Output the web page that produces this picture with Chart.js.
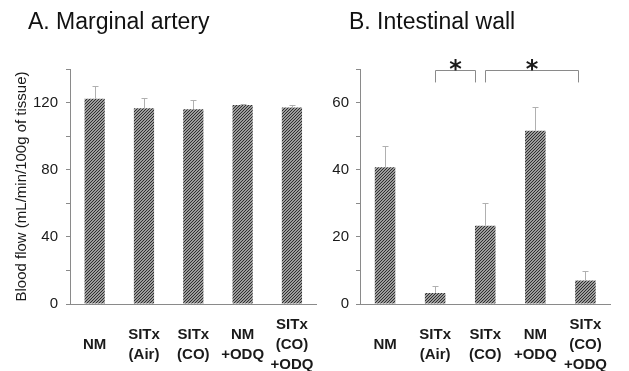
<!DOCTYPE html>
<html>
<head>
<meta charset="utf-8">
<script src="https://cdn.jsdelivr.net/npm/chart.js@4.4.1/dist/chart.umd.min.js"></script>
<style>
  html, body { margin: 0; padding: 0; background: #fff; }
  #wrap { position: relative; width: 629px; height: 371px; overflow: hidden; }
  .panel { position: absolute; top: 0; height: 371px; }
  #panelA { left: 0; width: 335px; }
  #panelB { left: 315px; width: 314px; }
</style>
</head>
<body>
<div id="wrap">
  <div class="panel" id="panelA"><canvas id="chartA"></canvas></div>
  <div class="panel" id="panelB"><canvas id="chartB"></canvas></div>
</div>
<script>
(() => {

    // --------- data ---------
    const groups = [["NM"], ["SITx", "(Air)"], ["SITx", "(CO)"], ["NM", "+ODQ"], ["SITx", "(CO)", "+ODQ"]];

    const arteryFlow = [122.3, 116.6, 116.0, 118.5, 117.0];
    const arteryErr  = [7.5, 6.0, 5.7, 0.6, 1.5];

    const wallFlow = [40.7, 3.3, 23.3, 51.6, 7.0];
    const wallErr  = [6.4, 2.1, 6.9, 7.2, 2.9];

    const arteryTicks = [0, 40, 80, 120];
    const wallTicks = [0, 20, 40, 60];

    // significance brackets on panel B: from / to are category positions
    const brackets = [
        { from: 1.0, to: 1.79, top: 69.6, leg: 66.0 },
        { from: 2.0, to: 3.85, top: 69.6, leg: 66.0 }
    ];

    // --------- hatch fill ---------
    function hatch() {
        const c = document.createElement("canvas");
        c.width = 3; c.height = 3;
        const g = c.getContext("2d");
        g.fillStyle = "#9c9c9c";
        g.fillRect(0, 0, 3, 3);
        g.fillStyle = "#2e2e2e";
        // one "/" diagonal per tile
        g.fillRect(2, 0, 1, 1);
        g.fillRect(1, 1, 1, 1);
        g.fillRect(0, 2, 1, 1);
        return g.createPattern(c, "repeat");
    }

    // --------- plugins ---------
    const panelTitle = {
        id: "panelTitle",
        afterDraw(chart, args, opts) {
            const ctx = chart.ctx;
            ctx.save();
            ctx.font = "23px 'Liberation Sans', Arial, sans-serif";
            ctx.fillStyle = "#111";
            ctx.textBaseline = "alphabetic";
            ctx.fillText(opts.text, opts.x, 29);
            ctx.restore();
        }
    };

    const errorBars = {
        id: "errorBars",
        afterDatasetsDraw(chart, args, opts) {
            const ctx = chart.ctx;
            const y = chart.scales.y;
            const meta = chart.getDatasetMeta(0);
            const vals = chart.data.datasets[0].data;
            ctx.save();
            ctx.strokeStyle = "#b0b0b0";
            ctx.lineWidth = 1;
            meta.data.forEach((bar, i) => {
                const x = Math.round(bar.x) + 0.5;
                const y0 = y.getPixelForValue(vals[i]);
                const y1 = Math.round(y.getPixelForValue(vals[i] + opts.err[i])) + 0.5;
                ctx.beginPath();
                ctx.moveTo(x, y0);
                ctx.lineTo(x, y1);
                ctx.moveTo(x - 3, y1);
                ctx.lineTo(x + 3, y1);
                ctx.stroke();
            });
            ctx.restore();
        }
    };

    const sigBrackets = {
        id: "sigBrackets",
        afterDraw(chart, args, opts) {
            if (!opts.items) return;
            const ctx = chart.ctx;
            const xs = chart.scales.x, ys = chart.scales.y;
            ctx.save();
            ctx.strokeStyle = "#8a8a8a";
            ctx.lineWidth = 1;
            opts.items.forEach(b => {
                const x1 = Math.round(xs.getPixelForValue(b.from)) + 0.5;
                const x2 = Math.round(xs.getPixelForValue(b.to)) + 0.5;
                const yt = Math.round(ys.getPixelForValue(b.top)) + 0.5;
                const yl = ys.getPixelForValue(b.leg);
                ctx.beginPath();
                ctx.moveTo(x1, yl);
                ctx.lineTo(x1, yt);
                ctx.lineTo(x2, yt);
                ctx.lineTo(x2, yl);
                ctx.stroke();
                ctx.fillStyle = "#1a1a1a";
                ctx.font = "bold 24px 'DejaVu Sans', sans-serif";
                ctx.textAlign = "center";
                ctx.textBaseline = "alphabetic";
                ctx.fillText("*", (x1 + x2) / 2, yt + 6);
            });
            ctx.restore();
        }
    };

    // --------- chart builder ---------
    function makeChart(id, opt) {
        const el = document.getElementById(id);
        return new Chart(el, {
            type: "bar",
            data: {
                labels: groups,
                datasets: [{
                    data: opt.values,
                    backgroundColor: hatch(),
                    borderWidth: 0,
                    categoryPercentage: 1,
                    barPercentage: 0.41
                }]
            },
            options: {
                responsive: true,
                maintainAspectRatio: false,
                animation: false,
                layout: { padding: { top: 69, right: opt.padRight, left: 0, bottom: 0 } },
                plugins: {
                    legend: { display: false },
                    tooltip: { enabled: false },
                    panelTitle: { text: opt.title, x: opt.titleX },
                    errorBars: { err: opt.err },
                    sigBrackets: { items: opt.brackets }
                },
                scales: {
                    x: {
                        grid: { display: false, drawTicks: false },
                        border: { color: "#8a8a8a", width: 1 },
                        ticks: {
                            color: "#1a1a1a",
                            padding: 21,
                            maxRotation: 0,
                            autoSkip: false,
                            crossAlign: "center",
                            font: { family: "'Liberation Sans', Arial, sans-serif", size: 15, weight: "bold", lineHeight: 1.33 }
                        },
                        afterFit: s => { s.height = 67; }
                    },
                    y: {
                        min: 0,
                        max: opt.max,
                        grid: { drawOnChartArea: false, tickLength: 4, color: "#8a8a8a" },
                        border: { color: "#8a8a8a", width: 1 },
                        ticks: {
                            stepSize: opt.step,
                            color: "#1a1a1a",
                            padding: opt.tickPad,
                            font: { family: "'Liberation Sans', Arial, sans-serif", size: 15 },
                            callback: v => opt.labels.includes(v) ? String(v) : ""
                        },
                        title: opt.yTitle ? {
                            display: true,
                            text: opt.yTitle,
                            color: "#1a1a1a",
                            padding: { top: 13, bottom: 0 },
                            font: { family: "'Liberation Sans', Arial, sans-serif", size: 15 }
                        } : { display: false },
                        afterFit: s => { s.width = opt.axisW; }
                    }
                }
            },
            plugins: [panelTitle, errorBars, sigBrackets]
        });
    }

    makeChart("chartA", {
        title: "A. Marginal artery", titleX: 28,
        values: arteryFlow, err: arteryErr,
        max: 140, step: 20, labels: arteryTicks,
        axisW: 70, padRight: 6, tickPad: 8,
        yTitle: "Blood flow (mL/min/100g of tissue)"
    });

    makeChart("chartB", {
        title: "B. Intestinal wall", titleX: 34,
        values: wallFlow, err: wallErr,
        max: 70, step: 10, labels: wallTicks,
        axisW: 45, padRight: 11, tickPad: 7,
        brackets: brackets
    });

})();
</script>
</body>
</html>
